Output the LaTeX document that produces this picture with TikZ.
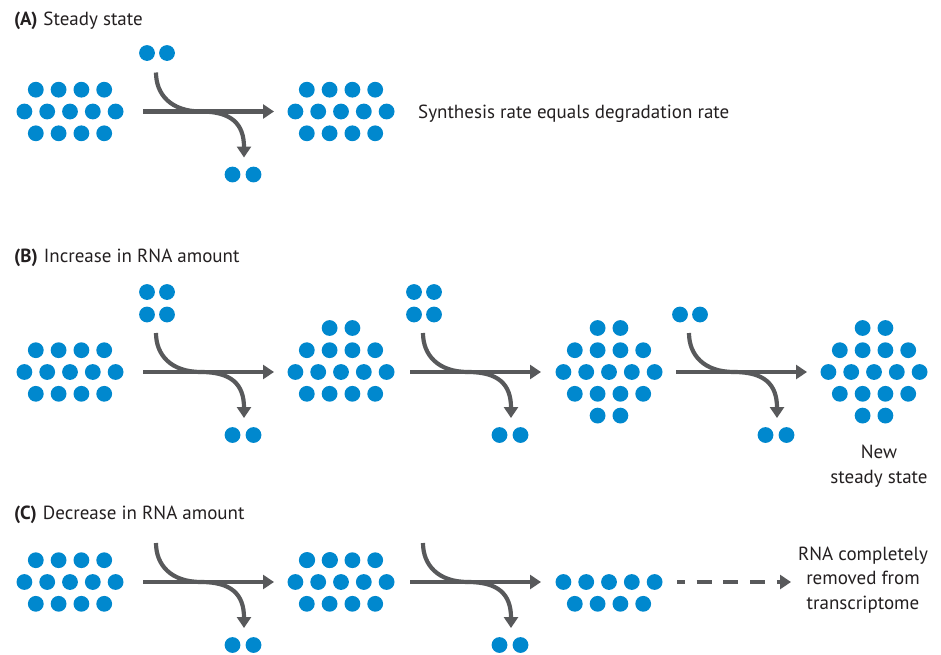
\documentclass[tikz,border=0pt]{standalone}
\usepackage{fontspec}
\setmainfont{PT Sans}
\usetikzlibrary{arrows.meta}
\definecolor{rnablue}{HTML}{0088CE}
\definecolor{flowgray}{HTML}{58595B}
\definecolor{txtgray}{HTML}{231F20}
\tikzset{
  rnadot/.style={fill=rnablue},
  flow/.style={draw=flowgray,line width=4.2pt,-{Triangle[width=14pt,length=11pt]}},
  flowin/.style={draw=flowgray,line width=4.2pt},
  lbl/.style={text=txtgray,font=\fontsize{19}{24.5}\selectfont,inner sep=0pt},
  ttl/.style={lbl,anchor=base west},
}
\newcommand\rdots[3]{\foreach \k in {1,...,#3}{\fill[rnadot] ({#1+(\k-(#3+1)/2)*22.8},{#2}) circle (7.9);}}
% cluster of 4/5/4
\newcommand\clusterA[2]{\rdots{#1}{#2-21.8}{4}\rdots{#1}{#2}{5}\rdots{#1}{#2+21.8}{4}}
% flux arrow: start x, row y
\newcommand\flux[2]{%
  \coordinate (s) at ({#1},{#2});
  \coordinate (e) at ({#1+131},{#2});
  \coordinate (ci) at ({#1+13},{#2-39});
  \coordinate (cm) at ({#1+58},{#2});
  \coordinate (bo) at ({#1+58},{#2});
  \coordinate (bt) at ({#1+101},{#2+46});
  \draw[flow] (s) -- (e);
  \draw[flowin] (ci) .. controls ({#1+13},{#2-17}) and ({#1+28},{#2}) .. (cm);
  \draw[flow] (bo) .. controls ({#1+88},{#2}) and ({#1+101},{#2+12}) .. (bt);
  \fill[rnadot] ({#1+89.5},{#2+63}) circle (7.9);
  \fill[rnadot] ({#1+110.5},{#2+63}) circle (7.9);
}
\newcommand\topdots[2]{%
  \fill[rnadot] ({#1+4},{#2}) circle (7.9);
  \fill[rnadot] ({#1+24},{#2}) circle (7.9);
}
\begin{document}
\begin{tikzpicture}[x=1pt,y=-1pt]
\useasboundingbox (0,0) rectangle (941,654);
% ---------- (A)
\node[ttl] (tA) at (14,25) {\textbf{(A)}\hspace{6pt}Steady state};
\clusterA{70}{111.5}
\flux{143}{111.5}
\topdots{143}{53}
\clusterA{341}{111.5}
\node[lbl,anchor=base west] (sA) at (418,118) {Synthesis rate equals degradation rate};
% ---------- (B)
\node[ttl] (tB) at (14,262) {\textbf{(B)}\hspace{6pt}Increase in RNA amount};
\clusterA{70}{372}
\flux{143}{372}
\topdots{143}{292}
\topdots{143}{314.5}
% cluster 2
\rdots{341}{328}{2}
\clusterA{341}{372}
\flux{410}{372}
\topdots{410}{292}
\topdots{410}{314.5}
% cluster 3
\rdots{609}{328}{2}
\clusterA{609}{372}
\rdots{609}{415.6}{2}
\flux{676}{372}
\topdots{676}{314.5}
% cluster 4
\rdots{874}{328}{2}
\clusterA{874}{372}
\rdots{874}{415.6}{2}
\node[lbl,align=center,anchor=base] (nB) at (879,483) {New\\steady state};
% ---------- (C)
\node[ttl] (tC) at (14,519) {\textbf{(C)}\hspace{6pt}Decrease in RNA amount};
\clusterA{70}{582}
\flux{143}{582}
\fill[rnadot] (307.2,560) circle (7.9);
\fill[rnadot] (330,560) circle (7.9);
\clusterA{341}{582}
\flux{410}{582}
\rdots{609}{582}{5}
\rdots{609}{603.8}{4}
\coordinate (ds) at (677,582);
\coordinate (de) at (791,582);
\draw[flow,dash pattern=on 15pt off 11.7pt,dash phase=7pt] (ds) -- (de);
\node[lbl,align=center,anchor=base] (rC) at (863,609) {RNA completely\\removed from\\transcriptome};
\end{tikzpicture}
\end{document}
